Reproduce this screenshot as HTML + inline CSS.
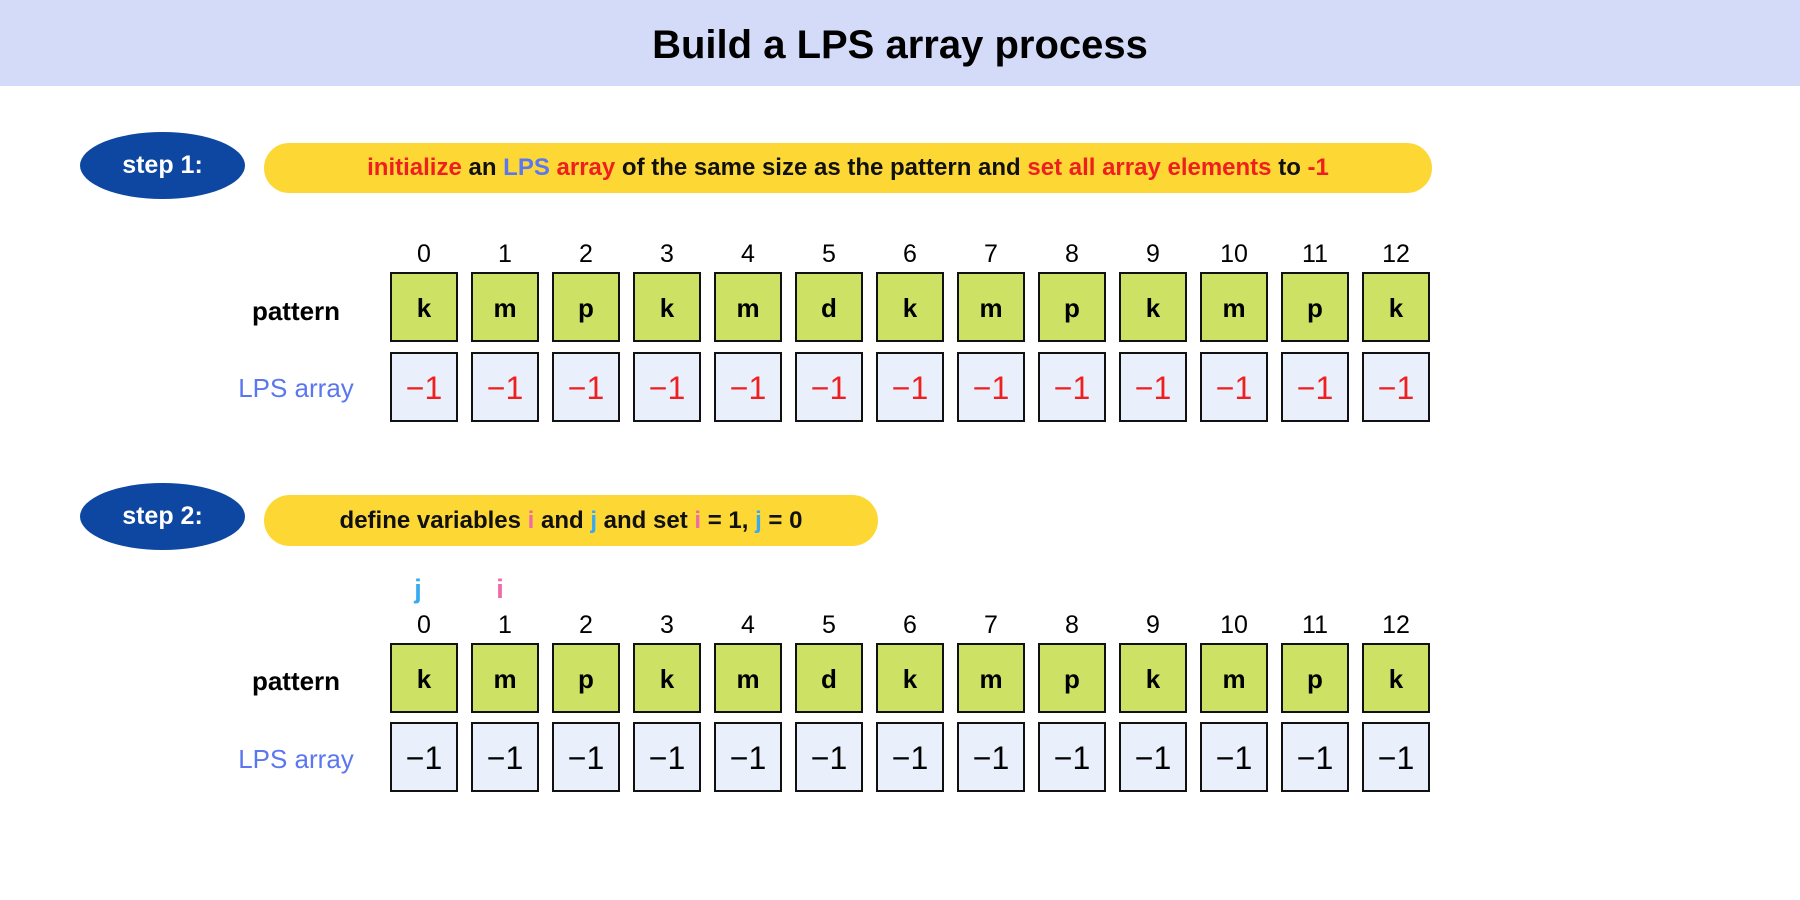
<!DOCTYPE html>
<html><head><meta charset="utf-8">
<style>
body{margin:0;width:1800px;height:900px;background:#fff;position:relative;overflow:hidden;font-family:"Liberation Sans",sans-serif;font-weight:bold}
.abs{position:absolute}
#hdr{left:0;top:0;width:1800px;height:86px;background:#d4dbf8;text-align:center;line-height:90px;font-size:40px;color:#000}
.step{background:#0d47a1;color:#fff;border-radius:50%;text-align:center;font-size:25px;width:165px;height:67px;line-height:67px;left:80px}
.pill{background:#fdd835;border-radius:26px;font-size:24px;color:#111;text-align:center}
.box{width:68px;height:70px;border:2px solid #111;box-sizing:border-box;text-align:center;line-height:68px;font-size:26px}
.pat{background:#cde264}
.lps{background:#e9effb;font-weight:normal;font-size:32px}
.idx{font-weight:normal;font-size:25px;width:68px;text-align:center}
.lbl{font-size:26px;width:200px;text-align:center;left:196px}
.r{color:#f01f1f}.b{color:#5b77f0}.pk{color:#f06aa8}.cy{color:#3aaaf0}
</style></head><body>
<div id="hdr" class="abs">Build a LPS array process</div>
<div class="abs step" style="top:132px">step 1:</div>
<div class="abs pill" style="left:264px;top:143px;width:1168px;height:50px;line-height:50px"><span class="r">initialize</span> an <span class="b">LPS</span> <span class="r">array</span> of the same size as the pattern and <span class="r">set all array elements</span> to <span class="r">-1</span></div>
<div class="abs step" style="top:483px">step 2:</div>
<div class="abs pill" style="left:264px;top:495px;width:614px;height:51px;line-height:51px">define variables <span class="pk">i</span> and <span class="cy">j</span> and set <span class="pk">i</span> = 1, <span class="cy">j</span> = 0</div>
<div class="abs lbl" style="top:296px">pattern</div>
<div class="abs lbl b" style="top:373px;font-weight:normal">LPS array</div>
<div class="abs lbl" style="top:666px">pattern</div>
<div class="abs lbl b" style="top:744px;font-weight:normal">LPS array</div>
<div class="abs cy" style="left:408px;top:574px;font-size:27px;width:20px;text-align:center">j</div>
<div class="abs pk" style="left:490px;top:574px;font-size:27px;width:20px;text-align:center">i</div>
<script>
const pattern=['k','m','p','k','m','d','k','m','p','k','m','p','k'];
const lps1=[-1,-1,-1,-1,-1,-1,-1,-1,-1,-1,-1,-1,-1];
const lps2=[-1,-1,-1,-1,-1,-1,-1,-1,-1,-1,-1,-1,-1];
function mk(cls,x,y,txt,name){const d=document.createElement('div');d.className='abs '+cls;d.style.left=x+'px';d.style.top=y+'px';d.textContent=txt;


document.body.appendChild(d);return d;}
function section(idxY,patY,lpsY,lps,red,s){
 pattern.forEach((c,i)=>{const x=390+i*81;
  mk('idx',x,idxY,String(i),'index-'+s+'-'+i);
  mk('box pat',x,patY,c,'pattern-cell-'+s+'-'+i);
  const l=mk('box lps',x,lpsY,String(lps[i]).replace('-','\u2212'),'lps-cell-'+s+'-'+i);
  if(red)l.style.color='#f01f1f';});
}
section(240,272,352,lps1,true,1);
section(611,643,722,lps2,false,2);
</script>
</body></html>
